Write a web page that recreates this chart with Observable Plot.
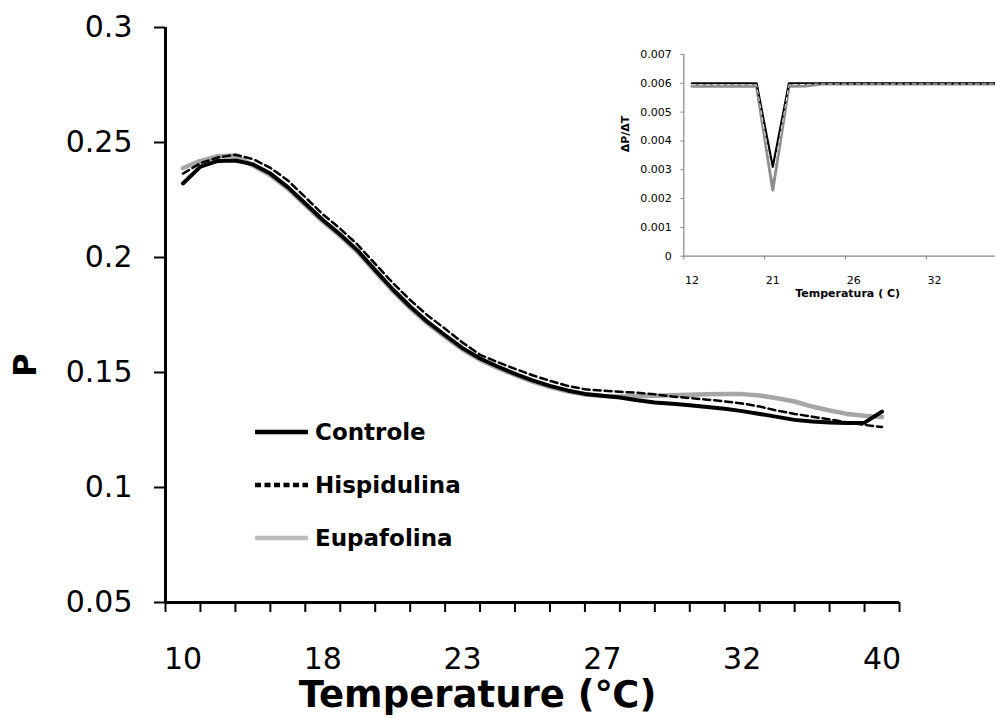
<!DOCTYPE html>
<html><head><meta charset="utf-8">
<script src="https://cdn.jsdelivr.net/npm/d3@7"></script>
<script src="https://cdn.jsdelivr.net/npm/@observablehq/plot@0.6"></script>
<style>
body{margin:0;background:#fff;}
#wrap{position:relative;width:995px;height:718px;font-family:"DejaVu Sans",sans-serif;overflow:hidden;}
#wrap > svg, #wrap > figure{position:absolute;margin:0;}
</style></head><body><div id="wrap"></div>
<script>
// ---------- main chart data ----------
// category axis: 21 categories; labels every 4th category
const xTickLabels = ["10", "18", "23", "27", "32", "40"];
const xTickLabelCats = [0, 4, 8, 12, 16, 20];
const nCats = 21;
const yTicks = [0.05, 0.1, 0.15, 0.2, 0.25, 0.3];
// curve samples every half category, starting at centre of category 0
const sampleCats = d3.range(41).map(i => 0.5 + i * 0.5);
const controle = [0.2322,0.2395,0.2420,0.2422,0.2405,0.2365,0.2306,0.2235,0.2163,0.2100,0.2030,0.1945,0.1862,0.1787,0.1720,0.1662,0.1606,0.1561,0.1526,0.1494,0.1466,0.1442,0.1422,0.1407,0.1399,0.1391,0.1379,0.1370,0.1364,0.1358,0.1350,0.1342,0.1332,0.1320,0.1307,0.1294,0.1287,0.1283,0.1280,0.1282,0.1330];
const hispidulina = [0.2365,0.2410,0.2435,0.2447,0.2428,0.2390,0.2335,0.2262,0.2188,0.2125,0.2055,0.1972,0.1890,0.1815,0.1748,0.1690,0.1630,0.1577,0.1545,0.1516,0.1488,0.1464,0.1442,0.1427,0.1421,0.1416,0.1412,0.1405,0.1396,0.1389,0.1382,0.1374,0.1365,0.1352,0.1334,0.1320,0.1308,0.1296,0.1283,0.1272,0.1263];
const eupafolina = [0.2389,0.2420,0.2440,0.2443,0.2400,0.2358,0.2299,0.2228,0.2156,0.2093,0.2023,0.1938,0.1855,0.1780,0.1713,0.1655,0.1600,0.1555,0.1520,0.1489,0.1460,0.1437,0.1418,0.1404,0.1398,0.1396,0.1397,0.1399,0.1401,0.1403,0.1405,0.1406,0.1406,0.1400,0.1388,0.1374,0.1352,0.1335,0.1320,0.1312,0.1307];
const seriesNames = ["Controle", "Hispidulina", "Eupafolina"];

// ---------- inset data ----------
const insetLabels = ["12", "21", "26", "32"];
const insetLabelCats = [0, 5, 10, 15];
const insetYTicks = [0, 0.001, 0.002, 0.003, 0.004, 0.005, 0.006, 0.007];
const insetCats = d3.range(20);
const insetControle = [0.0060,0.0060,0.0060,0.0060,0.0060,0.0031,0.0060,0.0060,0.0060,0.0060,0.0060,0.0060,0.0060,0.0060,0.0060,0.0060,0.0060,0.0060,0.0060,0.0060];
const insetHispidulina = [0.00595,0.00595,0.00595,0.00595,0.00595,0.0027,0.00595,0.00596,0.00598,0.00598,0.00598,0.00598,0.00598,0.00598,0.00598,0.00598,0.00598,0.00598,0.00598,0.00598];
const insetEupafolina = [0.0059,0.0059,0.0059,0.0059,0.0059,0.0023,0.0059,0.00591,0.00598,0.00598,0.00598,0.00598,0.00598,0.00598,0.00598,0.00598,0.00598,0.00598,0.00598,0.00598];

const toRows = (xs, ys) => xs.map((x, i) => ({x, y: ys[i]}));
const fmtY = d => String(+d.toFixed(2));
const FONT = "DejaVu Sans, Liberation Sans, sans-serif";

const wrap = document.getElementById("wrap");

const main = Plot.plot({
  width: 995, height: 718,
  marginLeft: 165, marginRight: 96, marginTop: 27, marginBottom: 116,
  style: {fontFamily: FONT, color: "#000", background: "transparent", overflow: "visible"},
  x: {domain: [0, nCats], axis: null},
  y: {domain: [0.05, 0.3], axis: null},
  marks: [
    Plot.axisY({ticks: yTicks, tickFormat: fmtY, label: null, tickSize: 11, tickPadding: 22, strokeWidth: 2, fontSize: 30, stroke: "#000"}),
    Plot.axisX({ticks: d3.range(nCats + 1), tickFormat: () => "", label: null, tickSize: 10, strokeWidth: 2, stroke: "#000"}),
    Plot.axisX({ticks: xTickLabelCats.map(c => c + 0.5), tickFormat: (d, i) => xTickLabels[i], label: null, tickSize: 0, tickPadding: 45, fontSize: 30}),
    Plot.ruleX([0], {strokeWidth: 3}),
    Plot.ruleY([0.05], {strokeWidth: 3}),
    Plot.line(toRows(sampleCats, eupafolina), {x: "x", y: "y", stroke: "#a6a6a6", strokeWidth: 4.5, curve: "linear"}),
    Plot.line(toRows(sampleCats, controle), {x: "x", y: "y", stroke: "#000", strokeWidth: 4, curve: "linear"}),
    Plot.line(toRows(sampleCats, hispidulina), {x: "x", y: "y", stroke: "#000", strokeWidth: 2.5, strokeDasharray: "7,4", curve: "linear"}),
    Plot.text(["P"], {frameAnchor: "left", dx: -140, dy: 62, rotate: -90, fontSize: 32, fontWeight: "bold"}),
    Plot.text(["Temperature (\u2103)"], {frameAnchor: "bottom", dx: -55, dy: 104, fontSize: 37, fontWeight: "bold"})
  ]
});
main.style.left = "0px"; main.style.top = "0px";
wrap.appendChild(main);

// legend overlay
const legend = d3.select(wrap).append("svg")
  .attr("width", 300).attr("height", 170)
  .style("left", "250px").style("top", "405px");
const legItems = [
  {name: seriesNames[0], stroke: "#000", width: 4.5, dash: null},
  {name: seriesNames[1], stroke: "#000", width: 4.5, dash: "6,3.5"},
  {name: seriesNames[2], stroke: "#bdbdbd", width: 4.5, dash: null}
];
const lg = legend.selectAll("g").data(legItems).join("g")
  .attr("transform", (d, i) => `translate(0,${27 + i * 53})`);
lg.append("line").attr("x1", 5).attr("x2", 58).attr("y1", 0).attr("y2", 0)
  .attr("stroke", d => d.stroke).attr("stroke-width", d => d.width)
  .attr("stroke-dasharray", d => d.dash);
lg.append("text").attr("x", 65).attr("y", 0).attr("dy", "0.35em")
  .attr("font-family", FONT).attr("font-size", 23).attr("font-weight", "bold")
  .text(d => d.name);

// inset
const inset = Plot.plot({
  width: 395, height: 290,
  marginLeft: 83.3, marginRight: 0, marginTop: 24, marginBottom: 64.3,
  style: {fontFamily: FONT, color: "#000", background: "#fff"},
  x: {domain: [0, 19.27], axis: null},
  y: {domain: [0, 0.007], axis: null},
  marks: [
    Plot.axisY({ticks: insetYTicks, tickFormat: d => d === 0 ? "0" : d.toFixed(3), label: null, tickSize: 3, tickPadding: 9, fontSize: 11, stroke: "#868686"}),
    Plot.axisX({ticks: insetLabelCats, tickFormat: () => "", label: null, tickSize: 4, stroke: "#868686"}),
    Plot.axisX({ticks: insetLabelCats.map(c => c + 0.5), tickFormat: (d, i) => insetLabels[i], label: null, tickSize: 0, tickPadding: 20, fontSize: 11}),
    Plot.ruleX([0], {stroke: "#868686", strokeWidth: 1.2}),
    Plot.ruleY([0], {stroke: "#868686", strokeWidth: 1.2}),
    Plot.line(toRows(insetCats.map(c => c + 0.5), insetEupafolina), {x: "x", y: "y", stroke: "#8c8c8c", strokeWidth: 3, clip: true}),
    Plot.line(toRows(insetCats.map(c => c + 0.5), insetControle), {x: "x", y: "y", stroke: "#000", strokeWidth: 2.2, clip: true}),
    Plot.line(toRows(insetCats.map(c => c + 0.5), insetHispidulina), {x: "x", y: "y", stroke: "#e6e6e6", strokeWidth: 1, strokeDasharray: "4,3", clip: true}),
    Plot.text(["Temperatura ( C)"], {frameAnchor: "bottom", dx: 8, dy: 41, fontSize: 11, fontWeight: "bold"}),
    Plot.text(["\u0394P/\u0394T"], {frameAnchor: "left", dx: -58, dy: -3, rotate: -90, fontSize: 11, fontWeight: "bold"})
  ]
});
inset.style.left = "600px"; inset.style.top = "30px";
wrap.appendChild(inset);
</script>
</body></html>
